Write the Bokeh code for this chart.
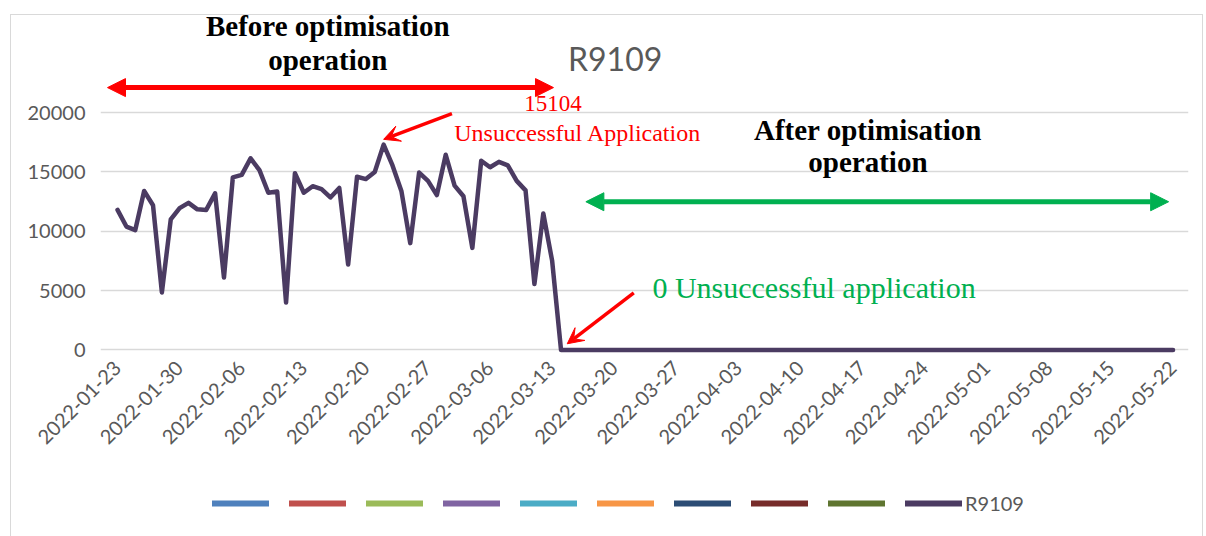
import pandas as pd
from math import pi
from bokeh.plotting import figure
from bokeh.layouts import column
from bokeh.models import (Range1d, FixedTicker, DatetimeTickFormatter, Label, Arrow,
                          NormalHead, VeeHead, Legend, LegendItem, InlineStyleSheet)
from bokeh.core.properties import value
from bokeh.embed import file_html
from bokeh.resources import INLINE

# ---------------- data ----------------
start_date = "2022-01-23"
end_date = "2022-05-22"
series_name = "R9109"
values = [
    11800, 10400, 10100, 13400, 12200, 4850, 11000, 11950, 12400, 11850,
    11800, 13200, 6100, 14550, 14750, 16150, 15150, 13250, 13350, 4000,
    14900, 13250, 13800, 13550, 12850, 13650, 7200, 14600, 14400, 15000,
    17300, 15550, 13400, 9000, 14950, 14250, 13050, 16450, 13850, 12950,
    8600, 15950, 15400, 15850, 15550, 14250, 13450, 5550, 11500, 7500,
    0, 0, 0, 0, 0, 0, 0, 0, 0, 0,
    0, 0, 0, 0, 0, 0, 0, 0, 0, 0,
    0, 0, 0, 0, 0, 0, 0, 0, 0, 0,
    0, 0, 0, 0, 0, 0, 0, 0, 0, 0,
    0, 0, 0, 0, 0, 0, 0, 0, 0, 0,
    0, 0, 0, 0, 0, 0, 0, 0, 0, 0,
    0, 0, 0, 0, 0, 0, 0, 0, 0, 0,
]
y_ticks = [0, 5000, 10000, 15000, 20000]
peak_label = "15104"
peak_text = "Unsuccessful Application"
zero_text = "0 Unsuccessful application"
before_lines = ["Before optimisation", "operation"]
after_lines = ["After optimisation", "operation"]
legend_colors = ["#4F81BD", "#C0504D", "#9BBB59", "#8064A2", "#4BACC6",
                 "#F79646", "#2C4D75", "#772C2A", "#5F7530"]
line_color = "#4B3B62"

dates = pd.date_range(start_date, end_date, freq="D")
tick_dates = pd.date_range(start_date, end_date, freq="7D")
DAY = 86400000.0


def ms(ts):
    return pd.Timestamp(ts).value / 1e6


t0 = ms(dates[0])
t_end = ms(dates[-1])
peak_i = max(range(len(values)), key=lambda i: values[i])
zero_i = values.index(0)

GRAY = "#595959"
SANS = "Lato"
SERIF = "Liberation Serif"

p = figure(width=1204, height=486, x_axis_type="datetime",
           x_range=Range1d(t0 - 1.92 * DAY, t_end + 1.74 * DAY),
           y_range=Range1d(-300, 28440),
           output_backend="svg", toolbar_location=None,
           min_border_left=100, min_border_right=16, min_border_top=12,
           min_border_bottom=133)
p.outline_line_color = None
p.background_fill_color = "white"
p.border_fill_color = "white"

r_main = p.line(dates, values, line_width=4.5, line_color=line_color,
                line_join="round", line_cap="round")

# axes
p.yaxis.ticker = FixedTicker(ticks=y_ticks)
p.xaxis.ticker = FixedTicker(ticks=[ms(t) for t in tick_dates])
fmt = "%Y-%m-%d"
p.xaxis.formatter = DatetimeTickFormatter(
    microseconds=fmt, milliseconds=fmt, seconds=fmt, minsec=fmt, minutes=fmt,
    hourmin=fmt, hours=fmt, days=fmt, months=fmt, years=fmt)
p.xaxis.major_label_orientation = pi / 4
for ax in (p.xaxis, p.yaxis):
    ax.axis_line_color = None
    ax.major_tick_line_color = None
    ax.minor_tick_line_color = None
    ax.major_label_text_font = SANS
    ax.major_label_text_font_size = "20px"
    ax.major_label_text_color = GRAY
p.yaxis.major_label_standoff = 9
p.xaxis.major_label_standoff = 5
p.xgrid.visible = False
p.ygrid.grid_line_color = "#D9D9D9"
p.ygrid.grid_line_width = 1.3

# title
p.add_layout(Label(x=t0 + 56.1 * DAY, y=24560, text=series_name, text_align="center",
                   text_baseline="middle", text_font=SANS, text_font_size="32px",
                   text_color=GRAY))

# before / after texts
for txt, yy in zip(before_lines, [27340, 24470]):
    p.add_layout(Label(x=t0 + 23.7 * DAY, y=yy, text=txt, text_align="center",
                       text_baseline="middle", text_font=SERIF, text_font_size="29px",
                       text_font_style="bold", text_color="black"))
for txt, yy in zip(after_lines, [18560, 15800]):
    p.add_layout(Label(x=t0 + 84.6 * DAY, y=yy, text=txt, text_align="center",
                       text_baseline="middle", text_font=SERIF, text_font_size="29px",
                       text_font_style="bold", text_color="black"))

# double arrows
p.add_layout(Arrow(x_start=t0 - 1.13 * DAY, y_start=22110,
                   x_end=ms(dates[zero_i]) - 0.85 * DAY, y_end=22110,
                   line_color="#FF0000", line_width=5,
                   start=NormalHead(size=18, fill_color="#FF0000", line_color="#FF0000"),
                   end=NormalHead(size=18, fill_color="#FF0000", line_color="#FF0000")))
p.add_layout(Arrow(x_start=ms(dates[zero_i]) + 2.8 * DAY, y_start=12490,
                   x_end=t_end - 0.5 * DAY, y_end=12490,
                   line_color="#00B050", line_width=5,
                   start=NormalHead(size=18, fill_color="#00B050", line_color="#00B050"),
                   end=NormalHead(size=18, fill_color="#00B050", line_color="#00B050")))

# peak annotation
p.add_layout(Label(x=ms(dates[peak_i]) + 19.1 * DAY, y=20760, text=peak_label,
                   text_align="center", text_baseline="middle", text_font=SERIF,
                   text_font_size="23px", text_color="#FF0000"))
p.add_layout(Label(x=ms(dates[peak_i]) + 21.9 * DAY, y=18310, text=peak_text,
                   text_align="center", text_baseline="middle", text_font=SERIF,
                   text_font_size="24px", text_color="#FF0000"))
p.add_layout(Arrow(x_start=ms(dates[peak_i]) + 7.7 * DAY, y_start=19920,
                   x_end=ms(dates[peak_i]), y_end=values[peak_i] + 450,
                   line_color="#FF0000", line_width=3.5,
                   end=VeeHead(size=16, fill_color="#FF0000", line_color="#FF0000")))

# zero annotation
p.add_layout(Label(x=ms(dates[zero_i]) + 10.3 * DAY, y=5230, text=zero_text,
                   text_align="left", text_baseline="middle", text_font=SERIF,
                   text_font_size="30px", text_color="#00B050"))
p.add_layout(Arrow(x_start=ms(dates[zero_i]) + 8.2 * DAY, y_start=4810,
                   x_end=ms(dates[zero_i]) + 0.7 * DAY, y_end=520,
                   line_color="#FF0000", line_width=3.5,
                   end=VeeHead(size=16, fill_color="#FF0000", line_color="#FF0000")))

# legend strip (separate figure below the chart); swatch lines sit outside its range
leg = figure(width=1204, height=50, output_backend="svg", toolbar_location=None,
             x_axis_type=None, y_axis_type=None,
             x_range=Range1d(10, 11), y_range=Range1d(10, 11),
             min_border_left=0, min_border_right=0, min_border_top=0, min_border_bottom=0)
leg.outline_line_color = None
leg.xgrid.visible = False
leg.ygrid.visible = False
swatches = []
for c in legend_colors + [line_color]:
    r = leg.line(x=[0, 1], y=[0, 0], line_color=c, line_width=6, line_cap="round")
    swatches.append(r)
legend_items = [LegendItem(label=value(""), renderers=[r]) for r in swatches[:-1]]
legend_items.append(LegendItem(label=value(series_name), renderers=[swatches[-1]]))
legend = Legend(items=legend_items, orientation="horizontal", location=(112, 21),
                glyph_width=57, glyph_height=20, label_standoff=3, label_width=10,
                spacing=7, padding=0, margin=0, border_line_color=None,
                background_fill_alpha=0, label_text_font=SANS,
                label_text_font_size="20px", label_text_color=GRAY)
leg.add_layout(legend, "center")

layout = column(p, leg, spacing=0)
layout.stylesheets = [InlineStyleSheet(css=(
    ":host::after {content: ''; position: absolute; left: 10px; top: 14px; "
    "right: 1px; bottom: 0px; border: 1px solid #D9D9D9; border-bottom: none; "
    "pointer-events: none;}"))]
open("out.html", "w").write(file_html(layout, INLINE))
